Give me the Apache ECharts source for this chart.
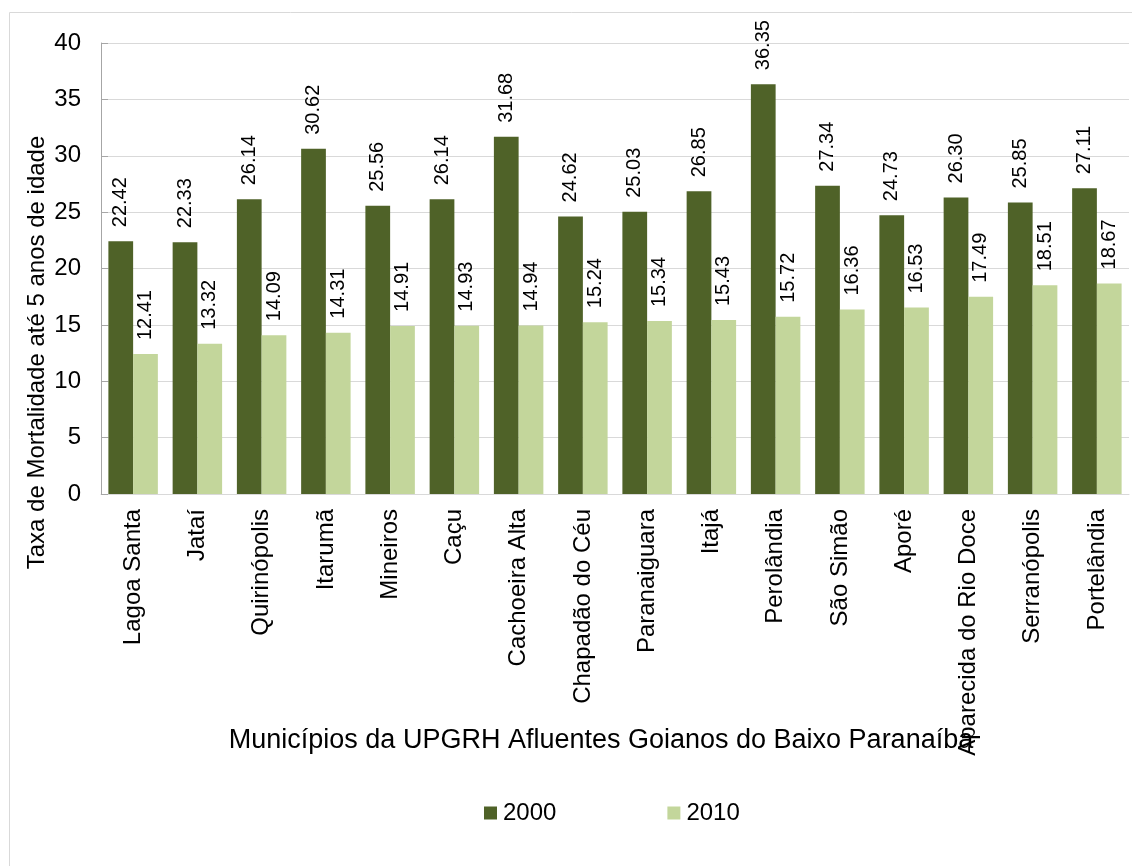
<!DOCTYPE html>
<html><head><meta charset="utf-8">
<script src="https://cdn.jsdelivr.net/npm/echarts@6/dist/echarts.min.js"></script>
<style>html,body{margin:0;padding:0;background:#fff}#c{width:1132px;height:866px}</style>
</head><body><div id="c"></div>
<script>
const categories = ["Lagoa Santa","Jataí","Quirinópolis","Itarumã","Mineiros","Caçu","Cachoeira Alta","Chapadão do Céu","Paranaiguara","Itajá","Perolândia","São Simão","Aporé","Aparecida do Rio Doce","Serranópolis","Portelândia"];
const values2000 = [22.42,22.33,26.14,30.62,25.56,26.14,31.68,24.62,25.03,26.85,36.35,27.34,24.73,26.30,25.85,27.11];
const values2010 = [12.41,13.32,14.09,14.31,14.91,14.93,14.94,15.24,15.34,15.43,15.72,16.36,16.53,17.49,18.51,18.67];
const seriesNames = ["2000","2010"];
const yTitle = "Taxa de Mortalidade até 5 anos de idade";
const xTitle = "Municípios da UPGRH Afluentes Goianos do Baixo Paranaíba";

const font = "'Liberation Sans', Arial, sans-serif";
const chart = echarts.init(document.getElementById('c'), null, {renderer:'canvas'});
const lbl = {
  show:true, position:'top', rotate:90, align:'left', verticalAlign:'middle', distance:14,
  fontSize:20, color:'#000', fontFamily:font,
  formatter: p => p.value.toFixed(2)
};
chart.setOption({
  animation:false,
  textStyle:{fontFamily:font},
  graphic:[{type:'rect', shape:{x:9.5,y:12.5,width:1140,height:870}, style:{fill:null, stroke:'#d9d9d9', lineWidth:1}, silent:true}],
  grid:{left:101, right:3, top:43, bottom:372, containLabel:false},
  legend:{
    data:seriesNames, left:479, top:796, itemWidth:13, itemHeight:13, itemGap:111, icon:'rect',
    textStyle:{fontSize:24, color:'#000', fontFamily:font, padding:[0,0,0,1]}
  },
  xAxis:{
    type:'category', data:categories,
    name:xTitle, nameLocation:'middle', nameGap:233, nameMoveOverlap:false,
    nameTextStyle:{fontSize:27, color:'#000', fontFamily:font, padding:[0,28,0,0]},
    axisLine:{lineStyle:{color:'#d9d9d9', width:1}},
    axisTick:{show:false},
    axisLabel:{rotate:90, interval:0, margin:15, fontSize:24, color:'#000', fontFamily:font}
  },
  yAxis:{
    type:'value', min:0, max:40, interval:5,
    name:yTitle, nameLocation:'middle', nameGap:52, nameRotate:90, nameMoveOverlap:false,
    nameTextStyle:{fontSize:24, color:'#000', fontFamily:font, padding:[0,168,0,0]},
    axisLine:{show:true, lineStyle:{color:'#a6a6a6', width:1}},
    axisTick:{show:true, inside:true, length:7, lineStyle:{color:'#a6a6a6'}},
    axisLabel:{fontSize:24, color:'#000', margin:20, fontFamily:font},
    splitLine:{show:true, lineStyle:{color:'#d9d9d9', width:1}}
  },
  series:[
    {name:seriesNames[0], type:'bar', data:values2000, barGap:'0%', barCategoryGap:'23%',
     itemStyle:{color:'#4f6228'}, label:lbl},
    {name:seriesNames[1], type:'bar', data:values2010, barGap:'0%', barCategoryGap:'23%',
     itemStyle:{color:'#c3d69b'}, label:lbl}
  ]
});
</script></body></html>
